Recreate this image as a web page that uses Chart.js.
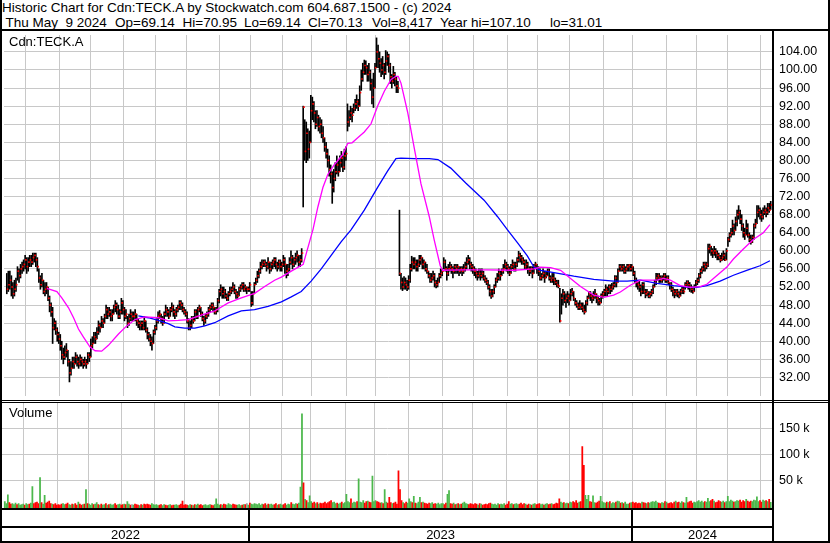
<!DOCTYPE html>
<html><head><meta charset="utf-8">
<script src="https://cdn.jsdelivr.net/npm/chart.js@4.4.1/dist/chart.umd.min.js"></script>
<style>
html,body{margin:0;padding:0;background:#fff;}
#wrap{position:relative;width:830px;height:543px;overflow:hidden;background:#fff;font-family:"Liberation Sans",Arial,sans-serif;color:#000;}
.t{position:absolute;white-space:pre;font-size:13.5px;line-height:15px;}
.lbl{position:absolute;white-space:pre;font-size:13px;line-height:15px;}
.ln{position:absolute;background:#000;}
canvas{position:absolute;left:0;}
</style></head><body>
<div id="wrap">
<div class="t" style="left:2px;top:0px">Historic Chart for Cdn:TECK.A by Stockwatch.com 604.687.1500 - (c) 2024</div>
<div class="t" style="left:5.5px;top:14.5px">Thu May  9 2024</div>
<div class="t" style="left:115px;top:14.5px">Op=69.14</div>
<div class="t" style="left:182.5px;top:14.5px">Hi=70.95</div>
<div class="t" style="left:244px;top:14.5px">Lo=69.14</div>
<div class="t" style="left:308px;top:14.5px">Cl=70.13</div>
<div class="t" style="left:372px;top:14.5px">Vol=8,417</div>
<div class="t" style="left:440px;top:14.5px">Year hi=107.10</div>
<div class="t" style="left:550px;top:14.5px">lo=31.01</div>
<canvas id="pc" width="830" height="369" style="top:31px"></canvas>
<canvas id="vc" width="830" height="140" style="top:403px"></canvas>
<div class="lbl" style="left:9px;top:34px">Cdn:TECK.A</div>
<div class="lbl" style="left:9px;top:405px">Volume</div>
<div class="ln" style="left:0;top:0;width:2px;height:543px"></div>
<div class="ln" style="left:828px;top:0;width:2px;height:543px"></div>
<div class="ln" style="left:0;top:29px;width:830px;height:2px"></div>
<div class="ln" style="left:772px;top:31px;width:2px;height:512px"></div>
<div class="ln" style="left:0;top:400px;width:830px;height:1px"></div>
<div class="ln" style="left:0;top:402px;width:830px;height:1px"></div>
<div class="ln" style="left:0;top:508px;width:774px;height:2px"></div>
<div class="ln" style="left:0;top:526px;width:774px;height:2px"></div>
<div class="ln" style="left:0;top:541px;width:830px;height:2px"></div>
</div>
<script>
// ---- DATA: TSX trading days 2022-05-12 .. 2024-05-09 ----
const firstDate = '2022-05-12';
const lastDate = '2024-05-09';
const holidays = ['2022-05-23','2022-07-01','2022-08-01','2022-09-05','2022-10-10','2022-12-26','2022-12-27',
 '2023-01-02','2023-02-20','2023-04-07','2023-05-22','2023-07-03','2023-08-07','2023-09-04','2023-10-09','2023-12-25','2023-12-26',
 '2024-01-01','2024-02-19','2024-03-29'];

const high = [
55,55.5,
55.5,54.5,53,53.5,54, 56.5,56,57,57.5, 58,59,58.5,58.5,59, 59,59.5,59.5,59.5,58.5,
56,54.5,55,53.5,53, 53,52,50,48.5,47.5, 45,44.5,43,42, 41.5,40,38.5,39,39.5,
38,36,35.5,36.5,36.5, 37.5,37,36.5,37,36.5, 36,36.5,36,37.5,37.5, 40.5,41,42,42,
43,44.5,44,45.5,45, 46,48,47.5,47.5,47, 47,48,49,48.5,48, 47,49.5,49,47.5,47,
45.5,46,47,46.5, 46.5,47,46,45,44.5, 44.5,44.5,45.5,44.5,43, 42,41.5,41,42.5,43.5,
45,46.5,46.8,46,45.5, 46.5,48,47.5,47, 47.5,48.5,48,47,47.5, 48,49,49,48.5,47.5,
47,46.5,45,44.5,45.5, 45.5,47,47,47.5,48, 47.5,46.5,45.5,46,46.5, 47.5,48,48.5,48.5,47.5,
47.5,49.5,51.5,52.5,52, 52,51.5,50.5,51,52, 52,53,52.5,51.5,51, 52,52.5,53,53,52.5,
52,52,53,
51,51,53,54, 55.5,56,57.5,58,58, 58,57.5,58.5,57.5,57.5, 58,58.5,58.5,57.5,58,
58,57.5,59,58.5,57, 57,58.5,60,59,58.5, 59.5,60,59,59,60.5, 92,89,88.5,87,
86.5,94.4,94,93,91, 91,90,89.5,89,87.5, 85,84,82.5,81,79, 77.5,78,79.5,81,80,
81,82,81,82.5,83, 92.5,91,92,91.5, 92.5,93.5,94.5,93.5,96.5, 100,101.5,102.2,102,101,
101.5,100,98,99.3,101.5, 107.1,105.5,104,102.5,103, 101.5,104.3,104,103.5,101.5, 99,100.8,99.5,98.5,97.5,
69,55,54,54.3, 54,53.5,54.5,57,58.8, 58.5,58.5,58,58,59, 59,58.5,58,57.5,57,
55.5,55,55,55.5,55, 53.5,54,55,56,56, 58.5,58,56.5,57, 57.5,57,56.5,57,57,
57,56.5,56.5,56.5,57, 57.5,58.5,59,58.5,57.5, 57,56.5,56,55.5,56, 56,56,55.5,54.5,
54,53.5,52.5,51.5,51.5, 52.5,54,55,56,55.5, 56,57,58,57.5,57, 56.5,57,58,57.5,
57.5,58.5,59.9,59.5,59, 58.5,58,58,57.5,56.5, 56.5,56.5,57,57.5,57, 56.5,56,55,56,55.5,
55.5,56,56,54.5, 55,55,54,53.5,53.5, 51.7,50.5,51.5,51,50.5, 51,50.5,51.5,51.7,51,
49.5,49,48.5,49,48.5, 48.5,48,49,50,51, 51,50.5,51,51.5,50.5, 50,49.5,50.5,51,51.5,
52.5,52,52.5,52.5,52.8, 53,54.5,54.5,56,57, 57,57,57,56.5,57, 57,57,57,
56.5,55.5,54,53.5, 53.5,52.5,53,53,51.5, 51.5,51,51,51.5,52.5, 53.5,55,55,55,54.5,
54.5,55,55,54.5,54.5, 53,53,52,51.5,51.5, 51.5,51,51.5,52,52, 53,53.4,53.4,53,
52.5,52,52.5,53.5,54, 55,56,56.5,57.5,57.5, 57.5,61.5,61.5,61,60.5, 61,60.5,60,59.5,59,
59.5,60,59.5,60.5, 63,64,65,66.8,66, 67.5,69,70,69,68, 66,65,66.8,66,64,
63.5,63.5,66,67,70, 70,69.5,69,69.5,70, 69.5,70.5,70.5,70.95
];

const low = [
50.5,51,
51.5,50,49.5,50,51, 53.5,53,54,55, 55.5,56,55,55.5,56.5, 56.5,57,57.5,56.5,55.5,
53,51.5,52,50.5,50, 50.5,49,46.5,45.5,39.5, 42.5,41.5,40,39.5, 38,36,35,36,36.5,
34.5,31,32.5,34,34, 35,34.5,34,34.5,34.5, 34,34.5,34,35,35.5, 36.5,38.5,39.5,39.5,
40.5,41.5,42,43,43, 44,45,45,45.5,44.5, 44.5,46,46.5,46,45, 45,46,46,44.5,45,
43,43.5,44.5,44.5, 44.5,44.5,43.5,43,42.5, 42.5,42.5,42.5,42,40.5, 40,39,38,39.5,41.5,
42.5,44,45,44,43.5, 44,45.5,45.5,45, 45.5,46.5,45.5,45,45.5, 46.5,47,47,46.5,46,
45.5,44,42.5,42.5,43, 44,44.5,45,45,46.5, 45.5,44.5,43.5,44,45, 45.5,46.5,47,46.5,46,
46,46.5,48.5,50,49.5, 49.5,49.5,49,49,50, 50.5,51,50.5,49.5,49.5, 50,51,51.5,51,51,
50.5,51,51,
47.7,48,50.5,52.5, 53,54,55,56,56.5, 56.5,55.5,56,55,55.5, 56,56.5,56,55.5,56,
55.5,55.5,56.5,55,54, 54.5,55.5,57,56,56.5, 57,57.5,56.5,56.5,57.5, 69.7,80,79.5,80,
80.5,84,89,88.5,87, 87.5,86.5,86,85,84, 82,80.5,78.5,76.5,75, 70.5,73,75.5,77,76.5,
77.5,78.5,77.5,78,80, 86.5,87.5,89,88.5, 90.5,91,91.5,91,92, 95.5,97.5,99,99,97.5,
97.5,95.5,92.5,91.7,96, 100.5,100.5,99.5,98.5,99, 98,99,101,99.5,97, 96,97,96.5,95,95,
54.5,51.5,51.2,51.5, 51.5,51.2,51.5,53,55.5, 56,56,55.5,55.5,56.5, 57,56,56,55.5,55,
54,53,53,53.5,52, 51.8,52,53,54,54.5, 56,55.5,53.5,54.5, 55.5,55,54,55,55,
55,54.5,55,54.5,55, 55.5,56,57,56,55.5, 55,54.5,54,53.5,54, 53.5,54,53.5,53,
52.5,51.5,50,49.5,49.8, 50.5,52,53,53.5,53.5, 54.5,55,56,55.5,55, 54.5,55,56,55.5,
55.5,56.5,57.5,57.5,57, 57,56,56,55,54.5, 55,54,55,56,55, 54.5,53.5,53.5,54,53,
54,54.5,53.5,53, 53,52.5,52.5,52,51.8, 44.2,46,48,48.5,47.5, 48.5,48,49,50,49,
48,47.5,47,47,47, 46.5,46,46.5,48,49.5, 49,48.5,49,49.5,48.5, 48,48,48.5,49.5,50,
50,50,50.5,50.5,51, 51.5,52,52,53,55.5, 55.5,55.5,55,55,55.5, 55.5,55.5,55.5,
54.5,53,52,51.5, 51,50,50.5,50.5,49.6, 50,49.6,49.6,50,50.5, 52,52.5,53.5,53,53,
53,53.5,53,53,52.5, 51.5,51,50,49.6,50, 49.8,49.6,50,50.5,50.5, 51.5,52,51.5,51,
50.8,50.6,51,52,52.5, 53,54,55,55.5,55.5, 56,56.5,59.5,59,58.5, 59,58.5,58,58,57.5,
57.8,58,57.8,58, 61,62,63,63.5,63.5, 64.5,65.5,67,66,64.5, 63,62.5,63.5,63,62,
61.5,61.8,62.5,65,66, 67.5,67,66.5,67,68, 67.5,68,68.5,69.14
];

const close = [
51.5,52.5,
53.5,52,50.5,51.5,52.5, 55.5,54.5,56,56.5, 57,58,56.5,57.5,58, 57.5,58.5,59,58,56.5,
54,52.5,53.5,51,51.5, 52,49.5,48,46.5,43, 44,42.5,41.5,40.5, 39,37,36.5,37.5,38,
35.5,33,34,35.5,35, 36.5,35.5,35,36,35.5, 35,35.5,35,37,36.5, 39,39.5,41,40.5,
42,43.5,43,44.5,44, 45.5,47,46,46.5,45.5, 46,47.5,48,47,45.5, 46.5,48.5,47,45.5,46,
44,45,46,45.5, 45.5,46,44.5,44,43.5, 44,43,44.5,42.5,41.5, 40.5,40,39.5,42,43,
44.5,45.5,46,45,44, 46,47,46.5,45.5, 47,47.5,46.5,46,47, 47.5,48.5,48,47,46.5,
46,44.5,43,43.5,45, 44.5,46.5,45.5,47,47.5, 46,45,44.5,45.5,46, 47,47.5,48,47.5,46.5,
47,49,51,51.5,50.5, 51,50,49.5,50.5,51, 51.5,52,51,50.5,50, 51.5,52,52.5,51.5,52,
51.5,51.5,52.5,
48.5,50.5,52.5,53.5, 54.5,55.5,56.5,57,57.5, 57,56.5,57.5,56,57, 57.5,58,57,56.5,57.5,
56.5,57,58,57,55.5, 56,57.5,58.5,57,58, 58.5,59,57.5,58,59.5, 91.8,82,86,82.5,
84,91,92.5,90.5,88, 89.5,87.5,88,86,85, 83,81.5,80,78,77, 74,76,77.5,79,77.5,
79.5,80.5,78.5,81,81.5, 88.5,89.5,90.5,90, 91.5,92.5,93,92,95, 98,99.5,101,100.5,99,
99.5,97,94,96,100.5, 104,102.5,101.5,100,101, 99.5,102,103,101,98.5, 97.5,99,98,96.5,96,
55,53,52,53, 52.5,52,53.5,56,57.5, 57,57.5,56.5,57,58, 58.5,57,57.5,56,55.5,
54.5,53.5,54,54.5,53, 52.5,53,54.5,55,55.5, 57.5,56,55,56, 56.5,56,55.5,56.5,56,
56.5,55.5,56,55.5,56, 56.5,57.5,58,57,56.5, 56,55.5,55,54.5,55, 54.5,55,54,53.5,
53,52,51,50,51, 52,53.5,54,55,54.5, 55.5,56,57,56.5,56, 55,56.5,57,56,
57,58,59,58.5,58, 57.5,56.5,57,56,55.5, 56,55,56.5,57,56, 55.5,54,54.5,55,54,
54.5,55.5,54,53.5, 54,53.5,53,52.5,52.2, 44.5,49.5,50.5,49,49.5, 50,49,50.5,51,49.5,
48.5,48,47.5,48,47.5, 47,46.5,48.5,49.5,50.5, 50,49.5,50,50.5,49.5, 49,48.5,50,50.5,51,
51.5,51,52,51.5,52, 52.5,54,53,55.5,56.5, 56,56.5,55.5,56,56.5, 56.8,56,56.5,
55,53.5,53,52.5, 52,51,52.5,51,50.5, 50.8,50,50.5,51,52, 53,54,54.5,54,53.5,
54,54.5,53.5,54,53, 52.5,51.5,51,50.5,51, 50.5,50,51,51.5,51, 52.5,53,52.5,52,
51.5,51,52,53,53.5, 54.5,55.5,56,57,56.5, 57,60.5,61,60,59.5, 60,59.5,59,58.5,58,
58.5,59,58,60, 62.5,63.5,64,65.5,64.5, 66.5,68,68.5,67,65.5, 64,63.5,65,63.5,62.5,
62,63,65.5,66,68.5, 69,68,67.5,68.5,69, 68.5,69.5,69,70.13
];

// volume, thousands of shares
const volumeK = [
10,6,
23,8,5,6,4, 7,4,6,3, 4,5,3,6,4, 5,7,39,6,8,
9,6,56,8,5, 22,7,9,11,6, 5,4,6,3, 4,3,5,6,4,
5,7,4,3,5, 4,6,3,9,5, 3,4,5,33,6, 5,3,6,4,
5,8,4,3,5, 3,4,6,3,4, 5,3,4,6,3, 4,5,3,4,5,
4,10,5,3, 4,3,5,4,3, 2,4,3,5,4, 5,4,3,6,4,
3,4,2,3,4, 2,4,3,2, 3,4,2,3,3, 4,2,3,5,11,
3,4,3,2,4, 3,2,4,3,5, 3,4,2,3,4, 2,3,4,3,2,
4,15,5,3,4, 3,5,4,3,6, 4,3,5,4,3, 3,4,2,3,4,
4,6,3,
7,5,4,6, 5,4,6,3,5, 4,6,3,5,4, 5,3,4,6,3,
4,5,3,4,6, 3,5,4,8,5, 4,6,5,7,38, 179,46,14,12,
8,21,10,7,9, 6,8,5,7,6, 7,9,6,8,10, 12,8,9,6,7,
5,7,9,6,8, 24,10,8,15, 7,9,8,10,54, 9,8,12,7,10,
11,9,8,59,10, 12,10,9,7,8, 6,33,9,7,18, 8,6,7,9,5,
69,33,12,8, 6,9,7,15,10, 8,20,7,6,9, 18,8,9,7,6,
5,7,6,8,5, 6,5,7,4,6, 6,4,7,24, 31,6,5,7,4,
5,6,4,5,7, 9,6,5,4,6, 5,4,6,5,3, 6,5,3,4,
5,4,6,7,5, 4,5,3,6,4, 5,4,6,3,5, 10,5,6,4,
5,6,4,5,7, 4,6,5,3,5, 4,3,5,6,4, 5,6,4,5,3,
5,6,4,5, 6,4,5,7,6, 15,9,7,8,6, 7,6,9,8,10,
8,12,7,9,10, 116,80,22,14,22, 10,9,21,8,7, 9,11,20,10,8,
7,9,8,10,6, 8,7,9,11,10, 7,8,6,9,5, 5,7,8,
9,7,8,6, 7,6,9,8,7, 6,8,7,9,10, 9,11,8,7,6,
8,7,10,9,6, 7,8,6,9,11, 8,9,7,10,8, 7,18,8,10,
11,7,9,8,10, 12,9,11,8,10, 9,16,10,12,14, 11,8,9,12,10,
9,11,8,10, 20,10,13,11,9, 10,12,11,13,9, 12,10,14,11,9,
11,10,13,12,19, 10,12,9,13,11, 12,10,14,8.417
];

// moving averages, positioned by bar number (0 = 2022-05-12)
const maFastBar = [26.2,32.8,36.0,40.4,43.7,46.9,50.2,54.5,57.8,62.1,66.5,73.1,78.5,83.9,90.4,99.2,105.7,112.2,118.7,127.4,136.1,144.9,153.5,162.2,168.8,175.3,179.7,186.2,194.0,200.4,203.6,206.9,210.1,214.5,219.9,223.2,226.0,229.7,234.0,238.4,242.8,247.1,251.5,254.7,256.2,258.0,262.4,266.7,271.1,276.5,279.7,283.7,285.2,299.3,314.6,332.0,345.0,349.4,355.9,362.5,369.0,375.5,384.2,390.7,397.2,401.6,408.1,414.7,425.6,429.9,434.3,440.8,447.3,453.8,458.2,462.5,471.3,475.6,482.1,488.6,495.2,499.5];
const maFastValues = [51.7,51.0,49.6,47.4,45.2,42.7,40.9,38.7,37.9,37.8,39.1,41.6,43.4,44.8,45.4,45.2,44.5,44.6,44.8,45.8,46.7,48.5,49.6,50.6,52.1,53.5,54.2,55.5,57.0,64.7,69.7,74.0,76.9,79.1,81.3,83.8,83.9,85.0,86.3,88.1,92.1,95.3,97.9,98.6,98.6,97.1,90.6,82.7,74.8,67.6,62.5,56.7,55.7,55.8,55.8,55.7,56.0,56.4,56.3,55.7,53.9,52.1,50.2,49.7,50.2,50.9,52.4,53.5,53.5,53.9,53.5,52.3,51.9,52.1,52.6,53.9,56.4,58.2,60.4,62.5,64.0,65.8];
const maSlowBar = [86.1,92.6,99.2,105.7,110.0,116.5,123.1,129.6,136.1,144.9,153.5,162.2,171.0,179.7,186.2,192.7,199.2,205.8,212.3,218.8,225.4,234.0,242.8,249.3,254.7,258.0,266.7,276.5,282.2,290.6,300.4,312.4,321.1,327.6,334.2,340.7,345.0,349.4,358.1,371.1,384.2,397.2,406.0,414.7,425.6,436.4,447.3,451.7,458.2,466.9,475.6,484.3,493.0,499.5];
const maSlowValues = [45.6,45.2,44.6,43.9,43.2,42.9,42.9,43.4,44.1,45.6,46.7,47.0,47.7,48.7,49.8,51.0,53.3,56.0,59.0,62.0,64.7,69.0,74.1,77.7,80.4,80.5,80.4,80.4,80.2,78.3,75.0,71.2,67.6,64.7,61.8,58.9,56.4,55.7,55.2,54.4,53.7,53.3,53.3,53.5,52.8,52.3,51.9,51.9,52.3,53.3,54.6,55.7,56.7,57.8];

const priceTicks = [32,36,40,44,48,52,56,60,64,68,72,76,80,84,88,92,96,100,104];
const volumeTicks = [50,100,150];
const yearLabels = ['2022','2023','2024'];

// ---- helpers ----
const iso = t => new Date(t).toISOString().slice(0,10);
function tradingDates(a,b,skip){
  const out=[]; let t=Date.parse(a+'T00:00:00Z'); const end=Date.parse(b+'T00:00:00Z');
  while(t<=end){ const wd=new Date(t).getUTCDay(); const s=iso(t); if(wd!==0&&wd!==6&&!skip.includes(s)) out.push(s); t+=86400000; }
  return out;
}
const dates = tradingDates(firstDate,lastDate,holidays);
const n = Math.min(dates.length, high.length, low.length, close.length, volumeK.length);
console.log('counts', dates.length, high.length, low.length, close.length, volumeK.length);

const monthLines=[], yearLines=[];
for(let i=1;i<dates.length;i++){
  if(dates[i].slice(0,7)!==dates[i-1].slice(0,7)) monthLines.push(i-0.5);
  if(dates[i].slice(0,4)!==dates[i-1].slice(0,4)) yearLines.push(i-0.5);
}

const X_MIN=-1.83, X_MAX=501.5;
const GRID='#c8c8c8';
const FONT='"Liberation Sans", Arial, sans-serif';

const barData=[], closeData=[], volData=[], volColors=[];
for(let i=0;i<n;i++){
  barData.push({x:i, y:[low[i],high[i]]});
  closeData.push({x:i+0.5, y:close[i]});
  volData.push({x:i, y:volumeK[i]});
  const prev = i>0 ? close[i-1] : close[i]-1;
  volColors.push(close[i]>prev ? '#4cb84c' : (close[i]<prev ? '#ff0000' : '#a0a0a0'));
}
const maFast = maFastBar.map((b,i)=>({x:b,y:maFastValues[i]}));
const maSlow = maSlowBar.map((b,i)=>({x:b,y:maSlowValues[i]}));

const xScale = () => ({
  type:'linear', min:X_MIN, max:X_MAX, offset:false,
  grid:{color:GRID, lineWidth:1, drawTicks:false, offset:false},
  border:{display:false}, ticks:{display:false},
  afterBuildTicks:s=>{ s.ticks = monthLines.map(v=>({value:v})); },
  afterFit:s=>{ s.height=0; s.paddingLeft=0; s.paddingRight=0; }
});
const yFit = s => { s.width=56; s.paddingTop=0; s.paddingBottom=0; };

new Chart(document.getElementById('pc'), {
  type:'bar',
  data:{datasets:[
    {type:'line', data:maFast, borderColor:'#ff00ff', borderWidth:1.3, pointRadius:0, fill:false},
    {type:'line', data:maSlow, borderColor:'#0000ff', borderWidth:1.3, pointRadius:0, fill:false},
    {type:'line', data:closeData, showLine:false, pointStyle:'rect', pointRadius:1.15, pointBackgroundColor:'#ff0000', pointBorderWidth:0, pointBorderColor:'#ff0000'},
    {type:'bar', data:barData, backgroundColor:'#000', barThickness:1, borderWidth:0}
  ]},
  options:{
    responsive:false, animation:false, devicePixelRatio:1, events:[],
    layout:{padding:{left:2,right:1,top:0,bottom:0}},
    plugins:{legend:{display:false}, tooltip:{enabled:false}},
    scales:{
      x:xScale(),
      y:{position:'right', min:27.89, max:107.74,
         grid:{color:GRID, drawTicks:false}, border:{display:false},
         ticks:{padding:6, color:'#000', font:{family:FONT, size:12.5}, callback:v=>Number(v).toFixed(2)},
         afterBuildTicks:s=>{ s.ticks = priceTicks.map(v=>({value:v})); },
         afterFit:yFit}
    }
  }
});

const yearBand = {
  id:'yearBand',
  afterDraw(chart){
    const ctx=chart.ctx, xs=chart.scales.x, ca=chart.chartArea;
    ctx.save();
    ctx.fillStyle='#000';
    const top = ca.bottom, bottom = chart.height;
    const px = yearLines.map(d=>xs.getPixelForValue(d));
    px.forEach(p=>ctx.fillRect(Math.round(p)-1, top, 2, bottom-top));
    const edges=[ca.left, ...px, ca.right];
    ctx.font='13px '+FONT; ctx.textAlign='center'; ctx.textBaseline='middle';
    yearLabels.forEach((t,i)=>{ ctx.fillText(t, (edges[i]+edges[i+1])/2, 132.5); });
    ctx.restore();
  }
};

new Chart(document.getElementById('vc'), {
  type:'bar',
  data:{datasets:[
    {data:volData, backgroundColor:volColors, barThickness:1.1, borderWidth:0, base:-3.46}
  ]},
  options:{
    responsive:false, animation:false, devicePixelRatio:1, events:[],
    layout:{padding:{left:2,right:1,top:0,bottom:34.5}},
    plugins:{legend:{display:false}, tooltip:{enabled:false}},
    scales:{
      x:xScale(),
      y:{position:'right', min:-3.46, max:200,
         grid:{color:GRID, drawTicks:false}, border:{display:false},
         ticks:{padding:6, color:'#000', font:{family:FONT, size:12.5}, callback:v=>v+' k'},
         afterBuildTicks:s=>{ s.ticks = volumeTicks.map(v=>({value:v})); },
         afterFit:yFit}
    }
  },
  plugins:[yearBand]
});
</script>
</body></html>
